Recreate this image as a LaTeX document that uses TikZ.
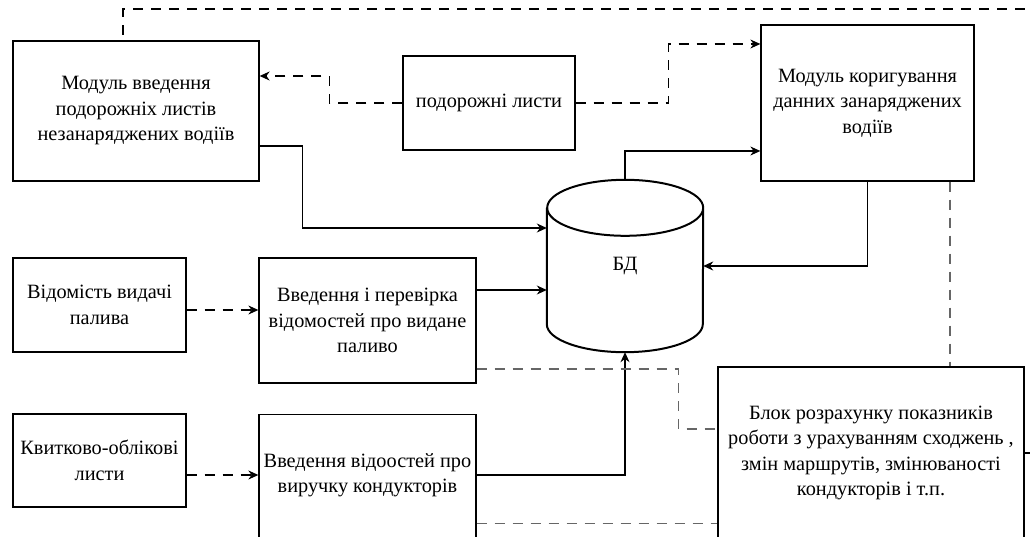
\documentclass[tikz,border=0pt]{standalone}
\usepackage{fontspec}
\setmainfont{Liberation Serif}
\usetikzlibrary{arrows.meta}
\tikzset{
  blk/.style={draw, line width=1.3pt, inner sep=0pt, align=center,
    font=\fontsize{20.3}{25.5}\selectfont},
  txt/.style={inner sep=0pt, align=center, font=\fontsize{20.3}{25.5}\selectfont},
  sline/.style={line width=1.1pt, -{Stealth[length=10pt,width=9pt]}},
  dline/.style={sline, dash pattern=on 10pt off 8pt},
  gline/.style={line width=1.1pt, black!60, dash pattern=on 10pt off 8pt}
}

\begin{document}
\begin{tikzpicture}[x=1pt,y=-1pt]
  \useasboundingbox (0,0) rectangle (1030,537);
  \clip (0,0) rectangle (1030,537);

  % blocks
  \node[blk, minimum width=246pt, minimum height=140pt] (m1) at (136,111)
    {Модуль введення\\подорожніх листів\\незанаряджених водіїв};
  \node[blk, minimum width=172pt, minimum height=94pt] (pl) at (489,103) {подорожні листи};
  \node[blk, minimum width=213pt, minimum height=156pt] (m2) at (867.5,103)
    {Модуль коригування\\данних занаряджених\\водіїв};
  \node[txt, minimum width=156pt, minimum height=172pt] (db) at (625,266) {БД};
  \node[blk, minimum width=173pt, minimum height=94pt] (v1) at (99.5,305)
    {Відомість видачі\\палива};
  \node[blk, minimum width=217pt, minimum height=125pt] (v2) at (367.5,320.5)
    {Введення і перевірка\\відомостей про видане\\паливо};
  \node[blk, minimum width=173pt, minimum height=93pt] (k1) at (99.5,460.5)
    {Квитково-облікові\\листи};
  \node[blk, minimum width=217pt, minimum height=150pt, anchor=north] (k2) at (367.5,414) {};
  \node[txt] (k2t) at (367.5,475) {Введення відоостей про\\виручку кондукторів};
  \node[blk, minimum width=306pt, minimum height=172pt] (blok) at (871,453)
    {Блок розрахунку показників\\роботи з урахуванням сходжень ,\\ змін маршрутів, змінюваності\\кондукторів і т.п.};
  \coordinate (topc) at (123,9);

  % cylinder for БД
  \draw[line width=2pt] ([yshift=-28pt]db.north west) -- ([yshift=28pt]db.south west)
    arc[start angle=180, end angle=360, x radius=78pt, y radius=28pt]
    -- ([yshift=-28pt]db.north east)
    arc[start angle=0, end angle=180, x radius=78pt, y radius=28pt]
    arc[start angle=180, end angle=360, x radius=78pt, y radius=28pt];

  % data flow
  \draw[sline] ([yshift=-35pt]m1.east) -- ++(43,0) |- ([yshift=38pt]db.west);
  \draw[sline] ([yshift=30.5pt]v2.east) -- ([yshift=30.5pt]v2.east -| db.west);
  \draw[sline] (k2.east |- k2t) -| (db.south);
  \draw[sline] (db.north) |- ([yshift=-48pt]m2.west);
  \draw[sline] (m2.south) |- (db.east);
  \draw[dline] (pl.west) -- ++(-73,0) |- ([yshift=35pt]m1.east);
  \draw[dline] (pl.east) -- ++(93,0) |- ([yshift=59pt]m2.west);
  \draw[dline] ([yshift=-5pt]v1.east) -- ([yshift=-5pt]v1.east -| v2.west);
  \draw[dline] (k1.east |- k2t) -- (k2.west |- k2t);
  \draw[gline] ([yshift=-48.5pt]v2.east) -- ++(202,0) |- ([yshift=24pt]blok.west);
  \draw[gline] ([yshift=-34pt]k2.east) -- ([yshift=-34pt]k2.east -| blok.west);
  \draw[gline] ([xshift=82.5pt]m2.south) -- ([xshift=82.5pt]m2.south |- blok.north);
  \draw[line width=1.1pt, dash pattern=on 10pt off 8pt]
    (blok.east) -- ++(30,0) |- (topc) -- ([xshift=-13pt]m1.north);
\end{tikzpicture}
\end{document}
